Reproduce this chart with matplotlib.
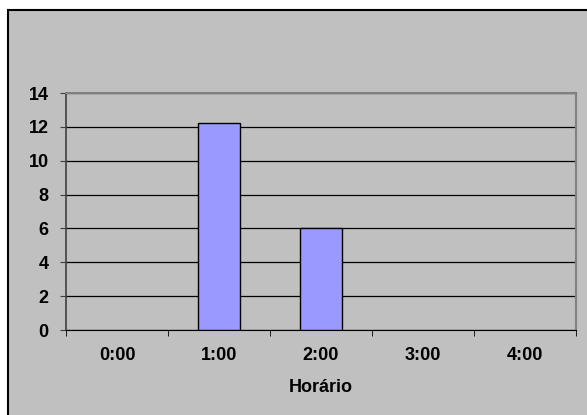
import matplotlib.pyplot as plt
from matplotlib.patches import Rectangle
import numpy as np

plt.rcParams['font.family'] = ['Liberation Sans', 'DejaVu Sans']

horarios = ['0:00', '1:00', '2:00', '3:00', '4:00']
valores = [0, 12.2, 6, 0, 0]
y_ticks = [0, 2, 4, 6, 8, 10, 12, 14]

fig = plt.figure(figsize=(5.87, 4.15), dpi=100, facecolor='white')

# fundo cinza da area do grafico com borda preta
fundo = Rectangle((8 / 587, -0.05), 1.1, 1.05 - 10 / 415,
                  transform=fig.transFigure, facecolor='#C0C0C0',
                  edgecolor='black', linewidth=1.5, zorder=-1)
fig.add_artist(fundo)

ax = fig.add_axes([66 / 587, (415 - 330) / 415, 510 / 587, 237 / 415])
ax.set_facecolor('#C0C0C0')

x = np.arange(len(horarios))
mask = np.array(valores) > 0
ax.bar(x[mask], np.array(valores)[mask], width=0.41, color='#9999FF',
       edgecolor='black', linewidth=1, zorder=3)

ax.set_xlim(-0.5, len(horarios) - 0.5)
ax.set_ylim(0, 14)
ax.set_yticks(y_ticks)
ax.set_yticklabels([str(v) for v in y_ticks], fontsize=13, fontweight='bold')
ax.yaxis.grid(True, color='black', linewidth=0.9, zorder=1)
ax.set_axisbelow(True)

ax.set_xticks(x)
ax.set_xticklabels(horarios, fontsize=13, fontweight='bold')
ax.set_xticks(np.arange(len(horarios) + 1) - 0.5, minor=True)
ax.tick_params(axis='x', which='major', length=0, pad=12)
ax.tick_params(axis='x', which='minor', length=4, color='black', direction='out')
ax.tick_params(axis='y', length=4.5, pad=8, color='#404040', direction='out')

ax.set_xlabel('Horário', fontsize=13, fontweight='bold', labelpad=11)

ax.spines['left'].set_color('#404040')
ax.spines['left'].set_linewidth(1.2)
ax.spines['bottom'].set_color('black')
ax.spines['top'].set_color('#808080')
ax.spines['top'].set_linewidth(1.5)
ax.spines['right'].set_color('#808080')
ax.spines['right'].set_linewidth(1.5)

fig.savefig('out.png', dpi=100, facecolor=fig.get_facecolor())
